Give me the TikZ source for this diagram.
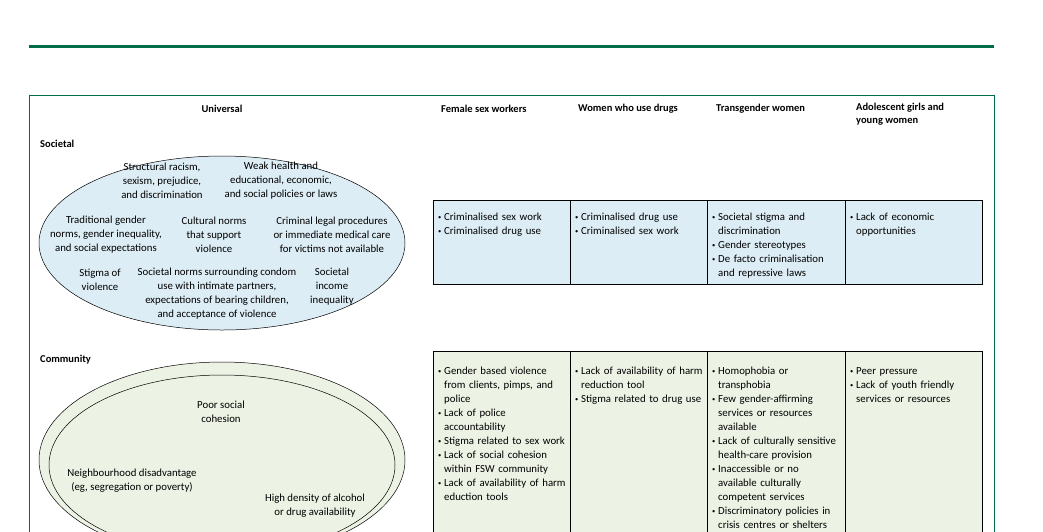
\documentclass[tikz,border=0pt]{standalone}
\usepackage{fontspec}
\setmainfont{Carlito}
\usetikzlibrary{positioning}
\definecolor{lgreen}{RGB}{0,110,72}
\definecolor{socblue}{RGB}{221,237,245}
\definecolor{comgreen}{RGB}{236,242,228}
\newcommand\itm{\par\hyphenpenalty=10000\hangindent=6pt\hangafter=1\noindent\makebox[6pt][l]{\raisebox{1pt}{\scalebox{0.6}{\textbullet}}}}
\tikzset{
  txt/.style={font=\fontsize{10.8}{14}\selectfont, align=center, inner sep=0pt},
  head/.style={font=\fontsize{10.5}{12.5}\selectfont\bfseries, inner sep=0pt, align=left},
  cell/.style={font=\fontsize{10.8}{14}\selectfont, inner sep=0pt, anchor=north west, text width=128pt, align=left}
}
\begin{document}
\begin{tikzpicture}[x=1pt,y=-1pt]
  \useasboundingbox (0,0) rectangle (1043,531);
  \clip (0,0) rectangle (1043,531);
  \draw[lgreen, line width=3pt] (29,46) -- (994,46);
  \draw[lgreen, line width=0.7pt] (29,540) |- (994,95) -- (994,540);
  % headers
  \node[head] (huni) at (222,109) {Universal};
  \node[head, anchor=west] (hfsw) at (441,109) {Female sex workers};
  \node[head, anchor=west] (hdrug) at (578,109) {Women who use drugs};
  \node[head, anchor=west] (htrans) at (716,109) {Transgender women};
  \node[head, anchor=north west] (hagyw) at (856,103) {Adolescent girls and\\young women};
  \node[head, anchor=west] (soc) at (40,144) {Societal};
  \node[head, anchor=west] (com) at (40,360) {Community};
  % societal
  \draw[fill=socblue, line width=0.5pt] (222,243) ellipse [x radius=183, y radius=87];
  \node[txt] (s1) at (162,181) {Structural racism,\\sexism, prejudice,\\and discrimination};
  \node[txt] (s2) at (281,181) {Weak health and\\educational, economic,\\and social policies or laws};
  \node[txt] (s3) at (106,235) {Traditional gender\\norms, gender inequality,\\and social expectations};
  \node[txt] (s4) at (214,235) {Cultural norms\\that support\\violence};
  \node[txt] (s5) at (332,235) {Criminal legal procedures\\or immediate medical care\\for victims not available};
  \node[txt] (s6) at (100,280) {Stigma of\\violence};
  \node[txt] (s7) at (217,294) {Societal norms surrounding condom\\use with intimate partners,\\expectations of bearing children,\\and acceptance of violence};
  \node[txt] (s8) at (332,287) {Societal\\income\\inequality};
  \draw[fill=socblue, line width=0.5pt] (433,200) rectangle (982,284);
  \foreach \x in {570,707,845} \draw[line width=0.5pt] (\x,200) -- (\x,284);
  \node[cell] (sf) at (438,206) {\itm Criminalised sex work\itm Criminalised drug use\par};
  \node[cell] (sd) at (575,206) {\itm Criminalised drug use\itm Criminalised sex work\par};
  \node[cell] (st) at (712,206) {\itm Societal stigma and discrimination\itm Gender stereotypes\itm De facto criminalisation and repressive laws\par};
  \node[cell] (sa) at (850,206) {\itm Lack of economic opportunities\par};
  % community
  \draw[fill=comgreen, line width=0.5pt] (222,460) ellipse [x radius=183, y radius=98];
  \draw[fill=comgreen, line width=0.5pt] (222,465) ellipse [x radius=173, y radius=90];
  \node[txt] (c1) at (221,412) {Poor social\\cohesion};
  \node[txt] (c2) at (132,481) {Neighbourhood disadvantage\\(eg, segregation or poverty)};
  \node[txt] (c3) at (315,506) {High density of alcohol\\or drug availability};
  \draw[fill=comgreen, line width=0.5pt] (433,351) rectangle (982,545);
  \foreach \x in {570,707,845} \draw[line width=0.5pt] (\x,351) -- (\x,545);
  \node[cell] (cf) at (438,360) {\itm Gender based violence from clients, pimps, and police\itm Lack of police accountability\itm Stigma related to sex work\itm Lack of social cohesion within FSW community\itm Lack of availability of harm eduction tools\par};
  \node[cell] (cd) at (575,360) {\itm Lack of availability of harm reduction tool\itm Stigma related to drug use\par};
  \node[cell] (ct) at (712,360) {\itm Homophobia or transphobia\itm Few gender-affirming services or resources available\itm Lack of culturally sensitive health-care provision\itm Inaccessible or no available culturally competent services\itm Discriminatory policies in crisis centres or shelters\par};
  \node[cell] (ca) at (850,360) {\itm Peer pressure\itm Lack of youth friendly services or resources\par};
\end{tikzpicture}
\end{document}
